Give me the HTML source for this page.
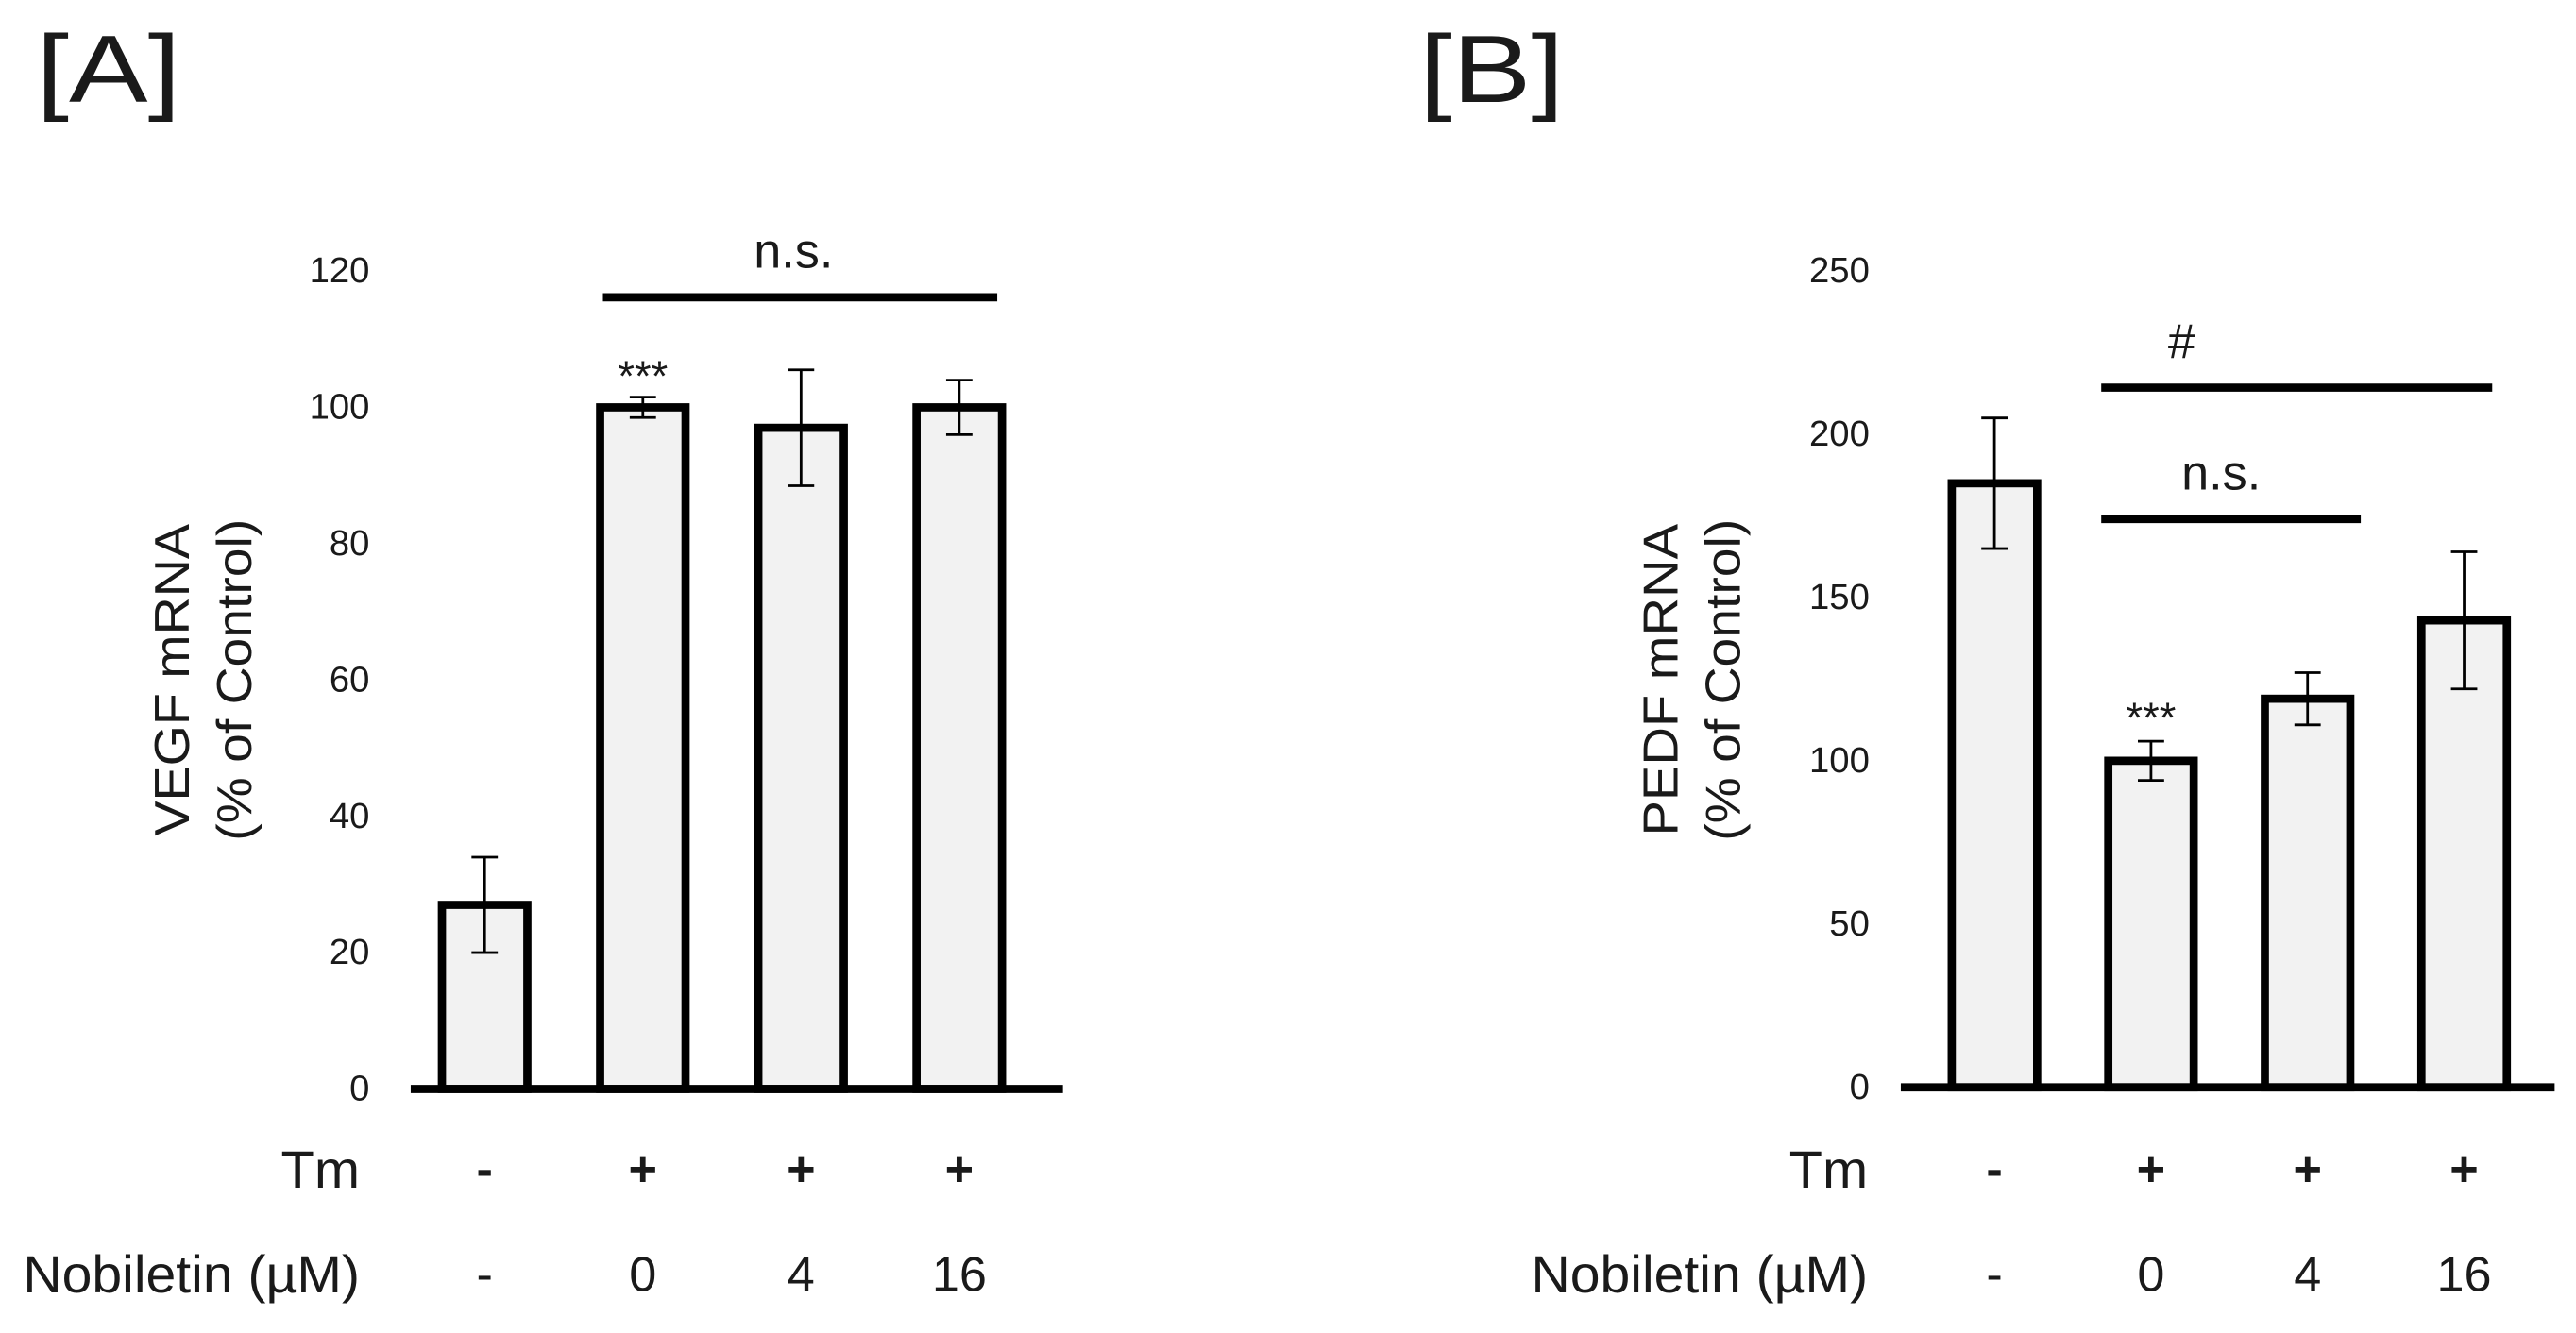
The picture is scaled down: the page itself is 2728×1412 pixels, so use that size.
<!DOCTYPE html>
<html><head><meta charset="utf-8"><style>
html,body{margin:0;padding:0;background:#fff;}
svg{display:block;}
text{font-family:"Liberation Sans",sans-serif;fill:#1a1a1a;}
</style></head><body>
<svg id="fig" width="2728" height="1412" viewBox="0 0 1568 811.6" preserveAspectRatio="none" xmlns="http://www.w3.org/2000/svg">
<text x="22" y="62" font-size="58" textLength="88" lengthAdjust="spacingAndGlyphs">[A]</text>
<text x="864" y="62" font-size="58" textLength="88" lengthAdjust="spacingAndGlyphs">[B]</text>
<g id="chartA"></g>
<g id="chartB"></g>
</svg>
<script>
const categories = ["ctrl", "tm0", "tm4", "tm16"];
const tmLabels = ["-", "+", "+", "+"];
const nobLabels = ["-", "0", "4", "16"];
const vegfValues = [27, 100, 97, 100];
const vegfErrors = [7, 1.5, 8.5, 4];
const vegfTicks = [0, 20, 40, 60, 80, 100, 120];
const pedfValues = [185, 100, 119, 143];
const pedfErrors = [20, 6, 8, 21];
const pedfTicks = [0, 50, 100, 150, 200, 250];

const NS = "http://www.w3.org/2000/svg";
function mk(parent, tag, attrs, txt) {
  const e = document.createElementNS(NS, tag);
  for (const k in attrs) e.setAttribute(k, attrs[k]);
  if (txt !== undefined) e.textContent = txt;
  parent.appendChild(e);
  return e;
}

function drawChart(g, cfg) {
  const y = v => cfg.y0 - (v / cfg.ymax) * (cfg.y0 - cfg.ytop);
  const x = i => cfg.x0 + i * cfg.step;
  cfg.ticks.forEach(t => {
    const tl = mk(g, "text", {x: cfg.tickX, y: y(t) + 7, "font-size": 22, "text-anchor": "end"}, String(t));
    
    
  });
  cfg.values.forEach((v, i) => {
    const b = mk(g, "rect", {x: x(i) - 26, y: y(v), width: 52, height: cfg.y0 - y(v), fill: "#f2f2f2", stroke: "#000", "stroke-width": 5});
    
    
    const e = cfg.errors[i];
    const eg = mk(g, "path", {d: `M${x(i)},${y(v + e)}V${y(v - e)}M${x(i) - 8},${y(v + e)}H${x(i) + 8}M${x(i) - 8},${y(v - e)}H${x(i) + 8}`, stroke: "#000", "stroke-width": 1.6, fill: "none"});
    
    
    const t1 = mk(g, "text", {x: x(i), y: 722, "font-size": 30, "font-weight": "bold", "text-anchor": "middle"}, tmLabels[i]);
    
    
    const t2 = mk(g, "text", {x: x(i), y: 786, "font-size": 30, "text-anchor": "middle"}, nobLabels[i]);
    
    
  });
  const ax = mk(g, "line", {x1: cfg.axStart, x2: cfg.axEnd, y1: cfg.y0, y2: cfg.y0, stroke: "#000", "stroke-width": 5});
  
  
  const yt = mk(g, "text", {transform: `translate(${cfg.titleX},414) rotate(-90)`, "font-size": 30, "text-anchor": "middle", textLength: 190, lengthAdjust: "spacingAndGlyphs"}, cfg.title);
  
  
  const yt2 = mk(g, "text", {transform: `translate(${cfg.titleX + 38},414) rotate(-90)`, "font-size": 30, "text-anchor": "middle", textLength: 196, lengthAdjust: "spacingAndGlyphs"}, "(% of Control)");
  
  
  const tm = mk(g, "text", {x: cfg.labelRight, y: 723, "font-size": 32, "text-anchor": "end", textLength: 48, lengthAdjust: "spacingAndGlyphs"}, "Tm");
  
  
  const nb = mk(g, "text", {x: cfg.labelRight - 205, y: 787, "font-size": 32, textLength: 205, lengthAdjust: "spacingAndGlyphs"}, "Nobiletin (\u00b5M)");
  
  
  cfg.sig.forEach(s => {
    const l = mk(g, "line", {x1: s.x1, x2: s.x2, y1: s.y, y2: s.y, stroke: "#000", "stroke-width": 5});
    
    
    const t = mk(g, "text", {x: s.tx, y: s.y - 18, "font-size": 30, "text-anchor": "middle"}, s.label);
    
    
  });
  const st = mk(g, "text", {x: x(1), y: cfg.starY, "font-size": 26, "text-anchor": "middle", fill: "#333"}, "***");
  
  
}

drawChart(document.getElementById("chartA"), {
  x0: 295, step: 96.3, y0: 663, ytop: 165, ymax: 120, tickX: 225, titleX: 115,
  axStart: 250, axEnd: 647, labelRight: 219,
  values: vegfValues, errors: vegfErrors, ticks: vegfTicks, title: "VEGF mRNA",
  sig: [{x1: 367, x2: 607, y: 181, tx: 483, label: "n.s."}], starY: 238
});
drawChart(document.getElementById("chartB"), {
  x0: 1214, step: 95.3, y0: 662, ytop: 165, ymax: 250, tickX: 1138, titleX: 1021,
  axStart: 1157, axEnd: 1555, labelRight: 1137,
  values: pedfValues, errors: pedfErrors, ticks: pedfTicks, title: "PEDF mRNA",
  sig: [{x1: 1279, x2: 1517, y: 236, tx: 1328, label: "#"}, {x1: 1279, x2: 1437, y: 316, tx: 1352, label: "n.s."}], starY: 446
});
</script>
</body></html>
